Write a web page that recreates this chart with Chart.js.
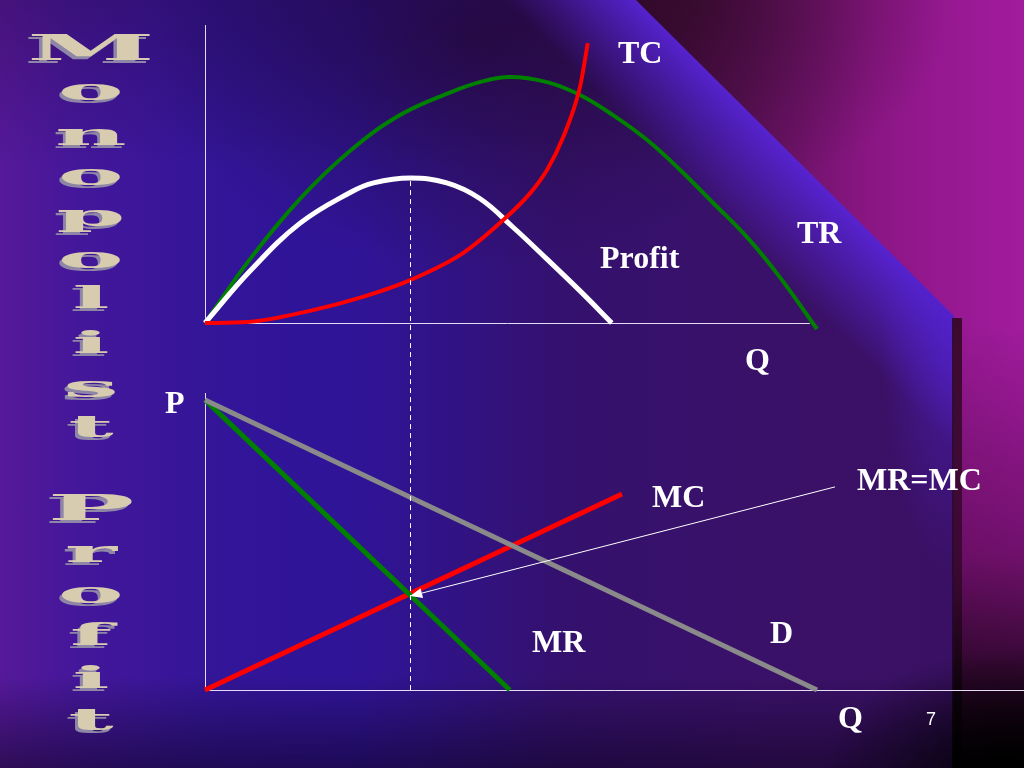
<!DOCTYPE html>
<html>
<head>
<meta charset="utf-8">
<script src="https://cdn.jsdelivr.net/npm/chart.js@4.4.1/dist/chart.umd.min.js"></script>
<style>
  html, body { margin:0; padding:0; width:1024px; height:768px; overflow:hidden; }
  #stage { position:relative; width:1024px; height:768px; overflow:hidden;
    background:
      linear-gradient(180deg, rgba(25,0,30,0.25) 0%, rgba(0,0,0,0) 22%, rgba(0,0,0,0) 88%, rgba(10,0,20,0.5) 100%),
      radial-gradient(ellipse 330px 230px at 480px 40px, rgba(34,8,48,0.6), rgba(34,8,48,0)),
      linear-gradient(90deg, #55199a 0%, #43179a 8%, #321598 22%, #2f1497 35%, #34116e 55%, #3a1168 75%, #3a1062 100%);
  }
  .layer { position:absolute; left:0; top:0; width:1024px; height:768px; pointer-events:none; }
  #band { background: linear-gradient(45deg, rgba(85,35,210,0) 0%, rgba(85,35,210,0) 71%, rgba(88,36,215,0.92) 78.3%, rgba(88,36,215,0.92) 100%); }
  #band2 { background: radial-gradient(ellipse 70px 240px at 950px 330px, rgba(80,32,200,0.6), rgba(80,32,200,0)); }
  #right { clip-path: polygon(636px 0, 1024px 0, 1024px 768px, 954px 768px, 954px 316px);
    background:
      linear-gradient(180deg, rgba(0,0,0,0) 0%, rgba(0,0,0,0) 42%, rgba(40,0,35,0.4) 72%, rgba(0,0,0,1) 100%),
      linear-gradient(90deg, #3a0a36 62%, #5c1058 72%, #8a1684 85%, #a21b9e 100%);
  }
  #rtop { clip-path: polygon(636px 0, 1024px 0, 1024px 330px, 954px 316px);
    background: radial-gradient(ellipse 260px 200px at 690px 0px, rgba(40,8,30,0.6), rgba(40,8,30,0)); }
  #strip { position:absolute; left:952px; top:318px; width:10px; height:450px;
    background: linear-gradient(180deg, rgba(50,8,35,0.9), rgba(30,5,20,0.6) 60%, rgba(0,0,0,0.8)); }
  #corner { background: radial-gradient(ellipse 200px 120px at 1024px 768px, rgba(0,0,0,0.9), rgba(0,0,0,0)); }
  canvas { position:absolute; left:0; top:0; }
  .lbl { position:absolute; font-family:"Liberation Serif", "Times New Roman", serif; font-weight:bold;
    font-size:32px; line-height:32px; color:#ffffff; white-space:nowrap; }
  .num { position:absolute; font-family:"Liberation Sans", Arial, sans-serif; font-size:18px; line-height:18px; color:#ffffff; }
  .tl { position:absolute; left:0; width:182px; text-align:center; font-family:"DejaVu Serif", serif; font-weight:bold;
    font-size:34px; line-height:34px; color:#d8ccb0; text-shadow:-1px 3px 0 #8e86a6; transform-origin:50% 28.8px; }
</style>
</head>
<body>
<div id="stage">
  <div class="layer" id="band"></div>
  <div class="layer" id="band2"></div>
  <div class="layer" id="right"></div>
  <div class="layer" id="rtop"></div>
  <div id="strip"></div>
  <div class="layer" id="corner"></div>
  <canvas id="c" width="1024" height="768"></canvas>
  <div id="labels"></div>
</div>
<script>
// ---- Data ----
// Upper panel: total revenue, total cost, profit against quantity
const trQ = [0, 0.75, 1.58, 2.42, 3.25, 4.08, 4.58, 5.08, 5.7, 6.25, 6.8, 7.37, 7.92, 8.47, 9.03, 9.58, 10.2];
const trV = [0, 2.13, 4.13, 5.74, 6.93, 7.68, 8.03, 8.2, 8.03, 7.6, 6.93, 6.1, 5.1, 4.0, 2.87, 1.53, -0.2];
const tcQ = [0, 0.7, 1.8, 2.63, 3.42, 4.3, 4.97, 5.42, 5.7, 5.97, 6.25, 6.38];
const tcV = [0, 0.03, 0.43, 0.87, 1.43, 2.33, 3.43, 4.33, 5.1, 6.2, 7.87, 9.33];
const profitQ = [0, 0.75, 1.58, 2.42, 2.81, 3.42, 4.03, 4.58, 5.13, 5.7, 6.25, 6.78];
const profitV = [0, 1.73, 3.32, 4.35, 4.67, 4.83, 4.67, 4.15, 3.2, 2.13, 1.07, 0];
// Lower panel: demand, marginal revenue, marginal cost
const dQ = [0, 10.2];
const dP = [9.67, 0];
const mrQ = [0, 5.08];
const mrP = [9.67, 0];
const mcQ = [0, 6.95];
const mcP = [0, 6.53];
// Profit-maximising output and the MR=MC pointer
const qStar = 3.42;
const profitMax = 4.83;
const mrmcPoint = [3.42, 3.13];
const pointerFrom = [10.5, 6.77];
// Axis extents
const topAxisQ = 10.08;
const topAxisV = 9.93;
const botAxisP = 9.9;

const pts = (xs, ys) => xs.map((x, i) => ({ x: x, y: ys[i] }));

const guides = {
  id: 'guides',
  beforeDatasetsDraw(chart) {
    const ctx = chart.ctx, x = chart.scales.x, yt = chart.scales.yTop, yb = chart.scales.yBot;
    ctx.save();
    ctx.strokeStyle = '#e4dcf4';
    ctx.lineWidth = 1;
    const x0 = Math.round(x.getPixelForValue(0)) + 0.5;
    ctx.beginPath();
    ctx.moveTo(x0, yt.getPixelForValue(topAxisV));
    ctx.lineTo(x0, yt.getPixelForValue(0));
    ctx.moveTo(x0, Math.round(yt.getPixelForValue(0)) + 0.5);
    ctx.lineTo(x.getPixelForValue(topAxisQ), Math.round(yt.getPixelForValue(0)) + 0.5);
    ctx.moveTo(x0, yb.getPixelForValue(botAxisP));
    ctx.lineTo(x0, yb.getPixelForValue(0));
    ctx.moveTo(x0, Math.round(yb.getPixelForValue(0)) + 0.5);
    ctx.lineTo(x.right, Math.round(yb.getPixelForValue(0)) + 0.5);
    ctx.stroke();
    ctx.restore();
  },
  afterDatasetsDraw(chart) {
    const ctx = chart.ctx, x = chart.scales.x, yt = chart.scales.yTop, yb = chart.scales.yBot;
    ctx.save();
    const xs = Math.round(x.getPixelForValue(qStar)) + 0.5;
    ctx.strokeStyle = '#ffffff';
    ctx.lineWidth = 1;
    ctx.setLineDash([5, 4]);
    ctx.beginPath();
    ctx.moveTo(xs, yt.getPixelForValue(profitMax) + 3);
    ctx.lineTo(xs, yb.getPixelForValue(0));
    ctx.stroke();
    ctx.setLineDash([]);
    const fx = x.getPixelForValue(pointerFrom[0]), fy = yb.getPixelForValue(pointerFrom[1]);
    const tx = x.getPixelForValue(mrmcPoint[0]), ty = yb.getPixelForValue(mrmcPoint[1]);
    const ang = Math.atan2(ty - fy, tx - fx);
    const L = 12, W = 5;
    const bx = tx - L * Math.cos(ang), by = ty - L * Math.sin(ang);
    ctx.beginPath();
    ctx.moveTo(fx, fy);
    ctx.lineTo(bx, by);
    ctx.stroke();
    ctx.fillStyle = '#ffffff';
    ctx.beginPath();
    ctx.moveTo(tx, ty);
    ctx.lineTo(bx + W * Math.sin(ang), by - W * Math.cos(ang));
    ctx.lineTo(bx - W * Math.sin(ang), by + W * Math.cos(ang));
    ctx.closePath();
    ctx.fill();
    ctx.restore();
  }
};

const line = (label, data, color, width, axis, mode) => ({
  label: label, data: data, yAxisID: axis, borderColor: color, backgroundColor: color,
  borderWidth: width, pointRadius: 0, pointHoverRadius: 0, fill: false,
  cubicInterpolationMode: mode || 'monotone', tension: 0.4, clip: false
});

new Chart(document.getElementById('c'), {
  type: 'line',
  data: {
    datasets: [
      line('D', pts(dQ, dP), '#8a8a8a', 5, 'yBot'),
      line('MR', pts(mrQ, mrP), '#008000', 5, 'yBot'),
      line('MC', pts(mcQ, mcP), '#ff0000', 5, 'yBot'),
      line('TC', pts(tcQ, tcV), '#ff0000', 4, 'yTop'),
      line('Profit', pts(profitQ, profitV), '#ffffff', 5, 'yTop', 'default'),
      line('TR', pts(trQ, trV), '#008000', 4, 'yTop', 'default')
    ]
  },
  options: {
    responsive: false,
    animation: false,
    devicePixelRatio: 1,
    layout: { padding: { left: 205, right: 0, top: 25, bottom: 78 } },
    plugins: { legend: { display: false }, tooltip: { enabled: false } },
    events: [],
    scales: {
      x: { type: 'linear', display: false, min: 0, max: 13.65 },
      yTop: { type: 'linear', display: false, min: -12.233, max: 9.933 },
      yBot: { type: 'linear', display: false, min: 0, max: 22.167 }
    }
  },
  plugins: [guides]
});

// ---- Text ----
const labelText = ['TC', 'TR', 'Profit', 'Q', 'P', 'MC', 'MR=MC', 'MR', 'D', 'Q'];
const labelLeft = [618, 797, 600, 745, 165, 652, 857, 532, 770, 838];
const labelBase = [63, 243, 268, 370, 413, 507, 490, 652, 643, 728];
const pageNumber = '7';
const titleChars = ['M','o','n','o','p','o','l','i','s','t','P','r','o','f','i','t'];
const titleBase = [60, 100, 145, 185, 226, 268, 308, 353, 397, 437, 520, 562, 603, 645, 688, 730];

const holder = document.getElementById('labels');
labelText.forEach((t, i) => {
  const d = document.createElement('div');
  d.className = 'lbl';
  d.textContent = t;
  d.style.left = labelLeft[i] + 'px';
  d.style.top = (labelBase[i] - 27) + 'px';
  holder.appendChild(d);
});
const n = document.createElement('div');
n.className = 'num';
n.textContent = pageNumber;
n.style.left = '926px';
n.style.top = (725 - 15) + 'px';
holder.appendChild(n);
titleChars.forEach((ch, i) => {
  const d = document.createElement('div');
  d.className = 'tl';
  d.textContent = ch;
  d.style.top = (titleBase[i] - 28.8) + 'px';
  const upper = ch === ch.toUpperCase();
  d.style.transform = upper ? 'scale(3.4, 1.05)' : 'scale(2.9, 0.9)';
  holder.appendChild(d);
});
</script>
</body>
</html>
